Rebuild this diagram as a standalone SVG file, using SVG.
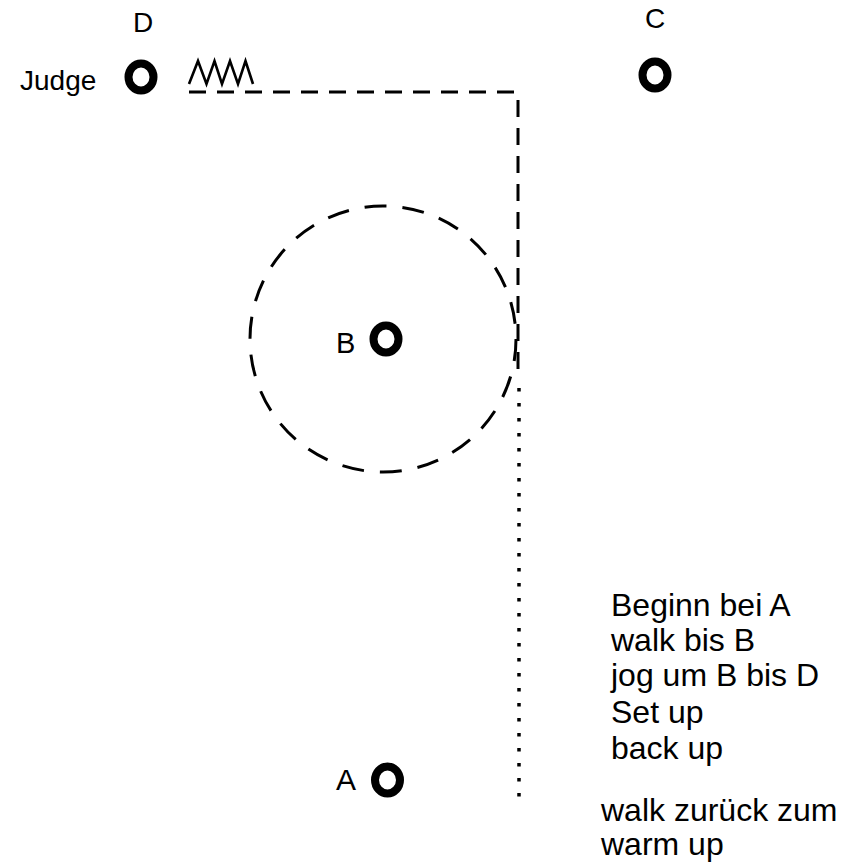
<svg xmlns="http://www.w3.org/2000/svg" width="861" height="865" viewBox="0 0 861 865">
<style>
text{font-family:"Liberation Sans",Arial,sans-serif;fill:#000}
.lbl{font-size:28px}
.note{font-size:32px}
.cone{fill:none;stroke:#000;stroke-width:8}
.dash{fill:none;stroke:#000;stroke-width:3;stroke-dasharray:17 11}
.dot{fill:none;stroke:#000;stroke-width:3.5;stroke-dasharray:3.5 11.5}
</style>
<rect width="861" height="865" fill="#fff"/>
<g id="connectors">
<circle cx="383" cy="339" r="133" fill="none" stroke="#000" stroke-width="3" stroke-dasharray="22 16"/>
<path class="dash" d="M189,92 H518"/>
<path class="dash" d="M518,100 V374"/>
<path class="dot" d="M519,388 V800"/>
<polyline id="zigzag" points="189,84 198,61 206.5,84 214.5,61 222,84 230,61 238,84 245.5,61 253,84" fill="none" stroke="#000" stroke-width="2.6" stroke-linejoin="miter"/>
</g>
<g id="D">
<text class="lbl" x="133" y="32">D</text>
<text class="lbl" x="20" y="90">Judge</text>
<ellipse class="cone" cx="141" cy="77" rx="12.5" ry="13.5"/>
</g>
<g id="C">
<text class="lbl" x="645" y="28">C</text>
<ellipse class="cone" cx="655" cy="75" rx="12.5" ry="13.5"/>
</g>
<g id="B">
<text class="lbl" x="336" y="353" style="font-size:29px">B</text>
<ellipse class="cone" cx="386" cy="339" rx="12.5" ry="13.5"/>
</g>
<g id="A">
<text class="lbl" x="336" y="790" style="font-size:30px">A</text>
<ellipse class="cone" cx="387.5" cy="780" rx="12.5" ry="13.5"/>
</g>
<g id="notes">
<text class="note" x="611" y="616">Beginn bei A</text>
<text class="note" x="611" y="651">walk bis B</text>
<text class="note" x="611" y="686">jog um B bis D</text>
<text class="note" x="611" y="723">Set up</text>
<text class="note" x="611" y="759">back up</text>
<text class="note" x="601" y="821">walk zurück zum</text>
<text class="note" x="601" y="855">warm up</text>
</g>
</svg>
